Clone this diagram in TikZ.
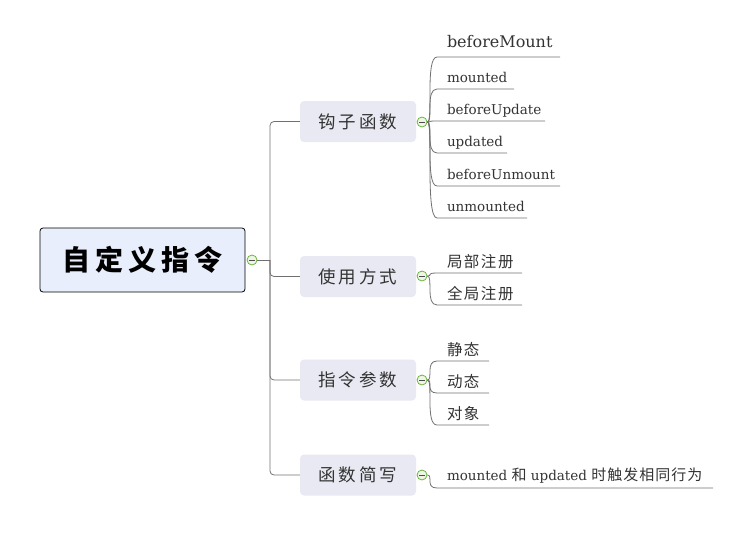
\documentclass[tikz,border=0pt]{standalone}
\usepackage{fontspec}
\setmainfont{DejaVu Serif}
\newfontfamily\cjk{Noto Sans CJK SC}
\definecolor{rootfill}{HTML}{E8EEFC}
\definecolor{subfill}{HTML}{E8E9F2}
\definecolor{linec}{HTML}{707070}
\definecolor{txt}{HTML}{333333}
\definecolor{gr}{HTML}{6DB33F}
\definecolor{grfill}{HTML}{EEF7E6}
\newcommand\g[1]{\hspace{#1pt}}
\tikzset{
  rootbox/.style={draw=black, line width=0.8pt, rounded corners=3pt, fill=rootfill, minimum width=205pt, minimum height=64pt, inner sep=0pt},
  subbox/.style={fill=subfill, rounded corners=4pt, minimum width=116pt, minimum height=41pt, inner sep=0pt, text=txt, font=\cjk\fontsize{17.5}{18}\selectfont},
  collapse/.style={circle, draw=gr, fill=grfill, line width=0.8pt, minimum size=10pt, inner sep=0pt, path picture={\draw[black!70, line width=0.7pt] ([xshift=-3pt]path picture bounding box.center) -- ([xshift=3pt]path picture bounding box.center);}},
  leaf/.style={anchor=south west, inner xsep=0pt, inner ysep=#1, outer sep=0pt, text depth=0pt, text=txt, font=\fontsize{13.5}{14}\selectfont},
  leaf/.default=7pt,
  cjkleaf/.style={leaf=6pt, font=\cjk\fontsize{15.5}{16}\selectfont},
  conn/.style={draw=linec, line width=0.8pt},
}
\begin{document}
\begin{tikzpicture}[x=1pt, y=-1pt]
\useasboundingbox (0,0) rectangle (752,541);
% root
\node[rootbox] (root) at (142.5,260) {\cjk\bfseries\fontsize{28}{28}\selectfont 自\g{5}定\g{5}义\g{5}指\g{5}令};
\node[collapse] (rc) at (252,260) {};
\coordinate (trunk) at (270,260);
% sub boxes
\node[subbox] (b1) at (358,121.5) {钩\g{3}子\g{3}函\g{3}数};
\node[subbox] (b2) at (358,276.5) {使\g{3}用\g{3}方\g{3}式};
\node[subbox] (b3) at (358,380) {指\g{3}令\g{3}参\g{3}数};
\node[subbox] (b4) at (358,475) {函\g{3}数\g{3}简\g{3}写};
\node[collapse] (c1) at (422,122) {};
\node[collapse] (c2) at (422,276) {};
\node[collapse] (c3) at (422,380) {};
\node[collapse] (c4) at (422,475) {};
% trunk lines
\draw[conn] (rc.east) -- (trunk);
\draw[conn, rounded corners=4pt] (trunk) |- (b1.west);
\draw[conn, rounded corners=4pt] (trunk) |- (b2.west);
\draw[conn, rounded corners=4pt] (trunk) |- (b3.west);
\draw[conn, rounded corners=4pt] (trunk) |- (b4.west);
% leaves of b1
\node[leaf=10pt, font=\fontsize{16}{16}\selectfont] (l11) at (437,57) {\makebox[123pt][l]{\hspace{10pt}beforeMount}};
\node[leaf] (l12) at (437,89) {\makebox[77pt][l]{\hspace{10pt}mounted}};
\node[leaf] (l13) at (437,121) {\makebox[108pt][l]{\hspace{10pt}beforeUpdate}};
\node[leaf] (l14) at (437,153) {\makebox[70pt][l]{\hspace{10pt}updated}};
\node[leaf] (l15) at (437,186) {\makebox[123pt][l]{\hspace{10pt}beforeUnmount}};
\node[leaf] (l16) at (437,218) {\makebox[90pt][l]{\hspace{10pt}unmounted}};
% leaves of b2
\node[cjkleaf] (l21) at (437,273) {\makebox[85pt][l]{\hspace{10pt}局\g{1.5}部\g{1.5}注\g{1.5}册}};
\node[cjkleaf] (l22) at (437,305) {\makebox[85pt][l]{\hspace{10pt}全\g{1.5}局\g{1.5}注\g{1.5}册}};
% leaves of b3
\node[cjkleaf] (l31) at (437,361) {\makebox[52pt][l]{\hspace{10pt}静\g{1.5}态}};
\node[cjkleaf] (l32) at (437,393) {\makebox[52pt][l]{\hspace{10pt}动\g{1.5}态}};
\node[cjkleaf] (l33) at (437,425) {\makebox[52pt][l]{\hspace{10pt}对\g{1.5}象}};
% leaf of b4
\node[leaf=8pt] (l41) at (437,488) {\makebox[276pt][l]{\hspace{10pt}mounted {\cjk\fontsize{15}{15}\selectfont 和} updated {\cjk\fontsize{15}{15}\selectfont 时\g{1}触\g{1}发\g{1}相\g{1}同\g{1}行\g{1}为}}};
% underlines and connectors
\foreach \c/\l in {c1/l11,c1/l12,c1/l13,c1/l14,c1/l15,c1/l16,c2/l21,c2/l22,c3/l31,c3/l32,c3/l33,c4/l41}{
  \draw[conn] (\c.east) .. controls +(6,0) and +(-12,0) .. (\l.south west) -- (\l.south east);
}
\end{tikzpicture}
\end{document}
